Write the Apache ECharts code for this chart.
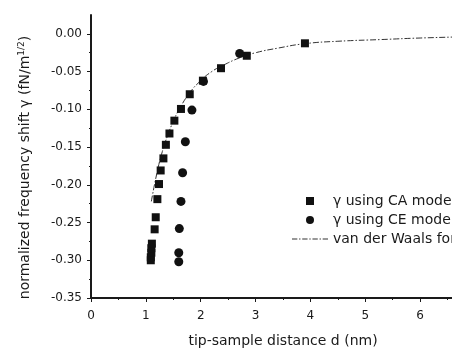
<!DOCTYPE html>
<html>
<head>
<meta charset="utf-8">
<script src="https://cdn.jsdelivr.net/npm/echarts@6/dist/echarts.min.js"></script>
<style>
  html, body { margin: 0; padding: 0; background: #fff; }
  #chart { width: 452px; height: 348px; }
</style>
</head>
<body>
<div id="chart"></div>
<script>
// CA model points (squares)
const caX = [1.09, 1.09, 1.10, 1.10, 1.11, 1.16, 1.18, 1.21, 1.24, 1.27, 1.32, 1.365, 1.43, 1.52, 1.64, 1.80, 2.04, 2.37, 2.84, 3.90]
const caY = [-0.300, -0.296, -0.290, -0.284, -0.278, -0.259, -0.243, -0.219, -0.199, -0.181, -0.165, -0.147, -0.132, -0.115, -0.0995, -0.080, -0.062, -0.0455, -0.029, -0.0125]

// CE model points (circles)
const ceX = [1.60, 1.60, 1.61, 1.64, 1.67, 1.72, 1.84, 2.05, 2.71]
const ceY = [-0.302, -0.290, -0.258, -0.222, -0.184, -0.143, -0.101, -0.063, -0.026]

// van der Waals fit curve
const vdwX = [1.10, 1.2, 1.3, 1.4, 1.5, 1.6, 1.8, 2.0, 2.2, 2.4, 2.7, 3.0, 3.4, 3.9, 4.5, 5.3, 6.0, 7.0]
const vdwY = [-0.222, -0.185, -0.156, -0.134, -0.116, -0.101, -0.078, -0.062, -0.050, -0.042, -0.032, -0.025, -0.019, -0.013, -0.0098, -0.0075, -0.0055, -0.0035]

const yTicks = [-0.35, -0.30, -0.25, -0.20, -0.15, -0.10, -0.05, 0.00]
const seriesNames = ['γ using CA model', 'γ using CE model', 'van der Waals force']

const ink = '#1a1a1a'

function pairs(xs, ys) {
  return xs.map((x, i) => [x, ys[i]])
}

// dash-dot legend icon drawn as a filled path (dash 6, gap 2, dot 1.5, gap 2)
function dashDotIcon(width) {
  let d = ''
  let x = 0
  while (x < width) {
    d += 'M' + x + ',0h6v1h-6z'
    x += 8
    if (x < width) d += 'M' + x + ',0h1.5v1h-1.5z'
    x += 3.5
  }
  return 'path://' + d
}

const chart = echarts.init(document.getElementById('chart'))

chart.setOption({
  animation: false,
  backgroundColor: '#fff',
  textStyle: { fontFamily: 'DejaVu Sans', color: ink },
  grid: { left: 91, right: -23, top: 15, bottom: 50, outerBoundsMode: 'none', containLabel: false },
  legend: {
    orient: 'vertical',
    left: 287,
    top: 189,
    itemWidth: 36,
    itemHeight: 8,
    itemGap: 5,
    textStyle: { fontSize: 14, lineHeight: 14, color: ink, fontFamily: 'DejaVu Sans' },
    data: [
      { name: seriesNames[0], icon: 'path://M0,0L10,0L10,10L0,10Z' },
      { name: seriesNames[1], icon: 'circle' },
      { name: seriesNames[2], icon: dashDotIcon(36), itemStyle: { color: '#333' } }
    ]
  },
  xAxis: {
    type: 'value',
    min: 0,
    max: 7,
    interval: 1,
    name: 'tip-sample distance d (nm)',
    nameLocation: 'middle',
    nameGap: 36,
    nameTextStyle: { fontSize: 14, color: ink, fontFamily: 'DejaVu Sans' },
    axisLine: { onZero: false, lineStyle: { color: ink, width: 2 } },
    axisTick: { inside: false, length: 4, lineStyle: { color: ink, width: 1 } },
    minorTick: { show: true, splitNumber: 2, length: 2, lineStyle: { color: ink, width: 1 } },
    axisLabel: { fontSize: 12, margin: 12, color: ink, fontFamily: 'DejaVu Sans' },
    splitLine: { show: false }
  },
  yAxis: {
    type: 'value',
    min: -0.35,
    max: 0.025,
    interval: 0.05,
    name: '{a|normalized frequency shift γ (fN/m}{s|1/2}{a|)}',
    nameLocation: 'middle',
    nameGap: 58,
    nameTextStyle: {
      padding: [0, 22, 0, 0],
      rich: {
        a: { fontSize: 14, lineHeight: 16, color: ink, fontFamily: 'DejaVu Sans' },
        s: { fontSize: 9, lineHeight: 16, verticalAlign: 'top', color: ink, fontFamily: 'DejaVu Sans' }
      }
    },
    axisLine: { onZero: false, lineStyle: { color: ink, width: 2 } },
    axisTick: { inside: false, length: 4, customValues: yTicks, lineStyle: { color: ink, width: 1 } },
    minorTick: { show: true, splitNumber: 2, length: 2, lineStyle: { color: ink, width: 1 } },
    axisLabel: {
      fontSize: 12,
      margin: 9,
      color: ink,
      fontFamily: 'DejaVu Sans',
      customValues: yTicks,
      formatter: (v) => v.toFixed(2)
    },
    splitLine: { show: false }
  },
  series: [
    {
      name: seriesNames[2],
      type: 'line',
      data: pairs(vdwX, vdwY),
      smooth: true,
      symbol: 'none',
      z: 1,
      lineStyle: { color: '#333', width: 1, type: [6, 2, 1.5, 2] },
      itemStyle: { color: '#333' }
    },
    {
      name: seriesNames[0],
      type: 'scatter',
      data: pairs(caX, caY),
      symbol: 'rect',
      symbolSize: 8,
      z: 3,
      itemStyle: { color: '#111', opacity: 1 }
    },
    {
      name: seriesNames[1],
      type: 'scatter',
      data: pairs(ceX, ceY),
      symbol: 'circle',
      symbolSize: 9,
      z: 3,
      itemStyle: { color: '#111', opacity: 1 }
    }
  ]
})
</script>
</body>
</html>
